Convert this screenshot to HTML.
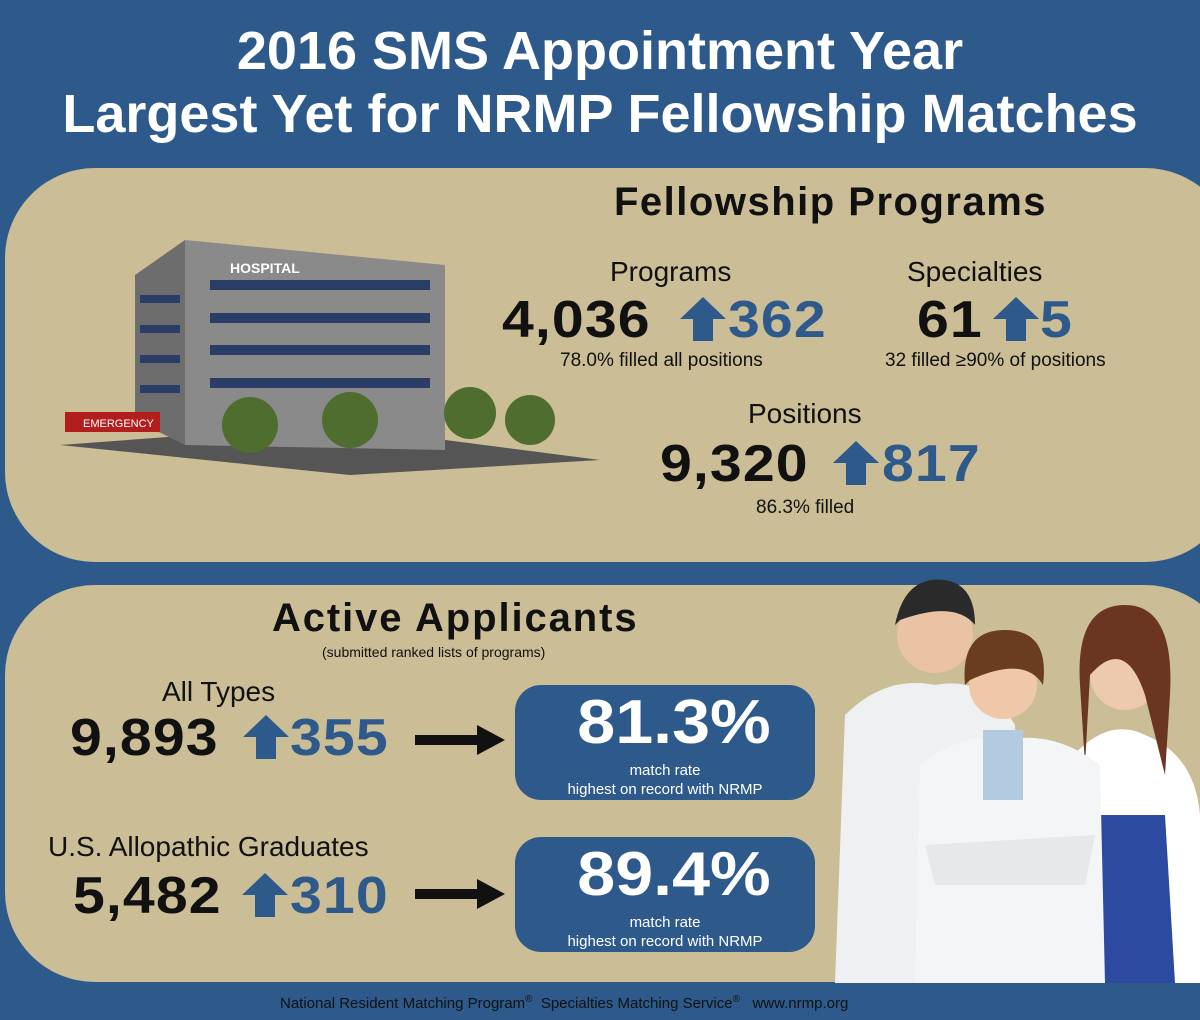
<!DOCTYPE html>
<html><head><meta charset="utf-8"><style>
body{margin:0;width:1200px;height:1020px;background:#2d5a8b;position:relative;overflow:hidden;font-family:"Liberation Sans",sans-serif;}
.a{position:absolute;white-space:nowrap}
.t{font-weight:bold;color:#fff;font-size:54px;left:0;width:1200px;text-align:center}
.panel{position:absolute;background:#cbbd95;border-radius:90px}
.big{font-weight:bold;font-size:52px;color:#111;letter-spacing:1px;line-height:52px;transform:scaleX(1.1);transform-origin:left}
.blue{color:#2d5a8b}
.lab{font-size:28px;color:#111}
.sm{font-size:19px;color:#111}
.box{position:absolute;background:#2d5a8b;border-radius:26px;color:#fff;text-align:center}
.arr{position:absolute}
.pct{font-size:62px;font-weight:bold;margin-top:6px;line-height:64px;transform:scaleX(1.1);margin-left:18px}
</style></head><body>
<div class="a t" style="top:20px">2016 SMS Appointment Year</div>
<div class="a t" style="top:83px">Largest Yet for NRMP Fellowship Matches</div>

<div class="panel" style="left:5px;top:168px;width:1230px;height:394px"></div>
<div class="panel" style="left:5px;top:585px;width:1230px;height:397px"></div>

<div class="a" style="left:614px;top:180px;font-size:40px;font-weight:bold;color:#111;letter-spacing:1.5px">Fellowship Programs</div>

<svg class="a" style="left:50px;top:235px" width="560" height="240">
<polygon points="10,210 300,240 550,225 280,190" fill="#555"/>
<polygon points="85,40 135,5 135,210 85,185" fill="#6d6d6d"/>
<polygon points="135,5 395,30 395,215 135,210" fill="#8a8a8a"/>
<g fill="#2a3d66">
<rect x="160" y="45" width="220" height="10"/><rect x="160" y="78" width="220" height="10"/><rect x="160" y="110" width="220" height="10"/><rect x="160" y="143" width="220" height="10"/>
<rect x="90" y="60" width="40" height="8"/><rect x="90" y="90" width="40" height="8"/><rect x="90" y="120" width="40" height="8"/><rect x="90" y="150" width="40" height="8"/>
</g>
<text x="180" y="38" font-size="14" font-weight="bold" fill="#fff" font-family="Liberation Sans">HOSPITAL</text>
<rect x="15" y="177" width="95" height="20" fill="#b21e1e"/>
<text x="33" y="192" font-size="11" fill="#fff" font-family="Liberation Sans">EMERGENCY</text>
<g fill="#4e6d2e"><circle cx="200" cy="190" r="28"/><circle cx="300" cy="185" r="28"/><circle cx="420" cy="178" r="26"/><circle cx="480" cy="185" r="25"/></g>
</svg>

<svg width="0" height="0" style="position:absolute"><defs><symbol id="up" viewBox="0 0 46 44"><polygon points="23,0 46,22 33,22 33,44 13,44 13,22 0,22" fill="#2d5a8b"/></symbol></defs></svg>

<div class="a lab" style="left:610px;top:256px">Programs</div>
<div class="a big" style="left:502px;top:294px">4,036</div>
<svg class="arr" style="left:680px;top:297px" width="46" height="44"><use href="#up"/></svg>
<div class="a big blue" style="left:728px;top:294px">362</div>
<div class="a sm" style="left:560px;top:350px">78.0% filled all positions</div>

<div class="a lab" style="left:907px;top:256px">Specialties</div>
<div class="a big" style="left:917px;top:294px">61</div>
<svg class="arr" style="left:993px;top:297px" width="46" height="44"><use href="#up"/></svg>
<div class="a big blue" style="left:1040px;top:294px">5</div>
<div class="a sm" style="left:885px;top:350px">32 filled ≥90% of positions</div>

<div class="a lab" style="left:748px;top:398px">Positions</div>
<div class="a big" style="left:660px;top:438px">9,320</div>
<svg class="arr" style="left:833px;top:441px" width="46" height="44"><use href="#up"/></svg>
<div class="a big blue" style="left:882px;top:438px">817</div>
<div class="a sm" style="left:756px;top:497px">86.3% filled</div>

<div class="a" style="left:272px;top:596px;font-size:40px;font-weight:bold;color:#111;letter-spacing:1.9px">Active Applicants</div>
<div class="a" style="left:322px;top:644px;font-size:14px;color:#111">(submitted ranked lists of programs)</div>
<div class="a lab" style="left:162px;top:676px">All Types</div>
<div class="a big" style="left:70px;top:712px">9,893</div>
<svg class="arr" style="left:243px;top:715px" width="46" height="44"><use href="#up"/></svg>
<div class="a big blue" style="left:290px;top:712px">355</div>
<div class="a lab" style="left:48px;top:831px">U.S. Allopathic Graduates</div>
<div class="a big" style="left:73px;top:870px">5,482</div>
<svg class="arr" style="left:242px;top:873px" width="46" height="44"><use href="#up"/></svg>
<div class="a big blue" style="left:290px;top:870px">310</div>
<svg class="a" style="left:415px;top:722px" width="92" height="36"><rect x="0" y="13" width="64" height="10" fill="#111"/><polygon points="62,3 90,18 62,33" fill="#111"/></svg>
<svg class="a" style="left:415px;top:876px" width="92" height="36"><rect x="0" y="13" width="64" height="10" fill="#111"/><polygon points="62,3 90,18 62,33" fill="#111"/></svg>

<div class="box" style="left:515px;top:685px;width:300px;height:115px"><div class="pct">81.3%</div><div style="font-size:15px;margin-top:6px;line-height:19px">match rate<br>highest on record with NRMP</div></div>
<div class="box" style="left:515px;top:837px;width:300px;height:115px"><div class="pct">89.4%</div><div style="font-size:15px;margin-top:6px;line-height:19px">match rate<br>highest on record with NRMP</div></div>

<svg class="a" style="left:825px;top:565px" width="375" height="418">
<path d="M10,418 L20,150 Q60,110 110,120 Q160,110 190,160 L200,418Z" fill="#eef0f2"/>
<circle cx="110" cy="70" r="38" fill="#e9c3a4"/><path d="M70,60 Q80,10 120,15 Q150,20 150,60 Q130,35 75,55Z" fill="#2a2a2a"/>
<path d="M250,418 L240,200 Q280,150 320,170 Q370,190 375,250 L375,418Z" fill="#fff"/>
<path d="M260,418 L270,250 L340,250 L350,418Z" fill="#2b4aa0"/>
<circle cx="300" cy="110" r="35" fill="#edc9ad"/><path d="M255,120 Q250,40 300,40 Q350,40 345,130 L340,210 L320,130 Q300,70 265,110 L260,200Z" fill="#6b3621"/>
<path d="M90,418 L95,200 Q140,165 180,175 Q230,165 275,200 L280,418Z" fill="#f4f5f6"/>
<rect x="158" y="165" width="40" height="70" fill="#b3cbe0"/>
<circle cx="178" cy="120" r="34" fill="#eec8a8"/><path d="M140,120 Q135,65 180,65 Q225,65 218,120 Q200,90 145,115Z" fill="#6a3d1e"/>
<path d="M100,280 L270,270 L260,320 L110,320Z" fill="#e6e8ea"/>
</svg>

<div class="a" style="left:280px;top:994px;font-size:15px;color:#111">National Resident Matching Program<sup style="font-size:10px">®</sup>&nbsp; Specialties Matching Service<sup style="font-size:10px">®</sup>&nbsp;&nbsp; www.nrmp.org</div>
</body></html>
